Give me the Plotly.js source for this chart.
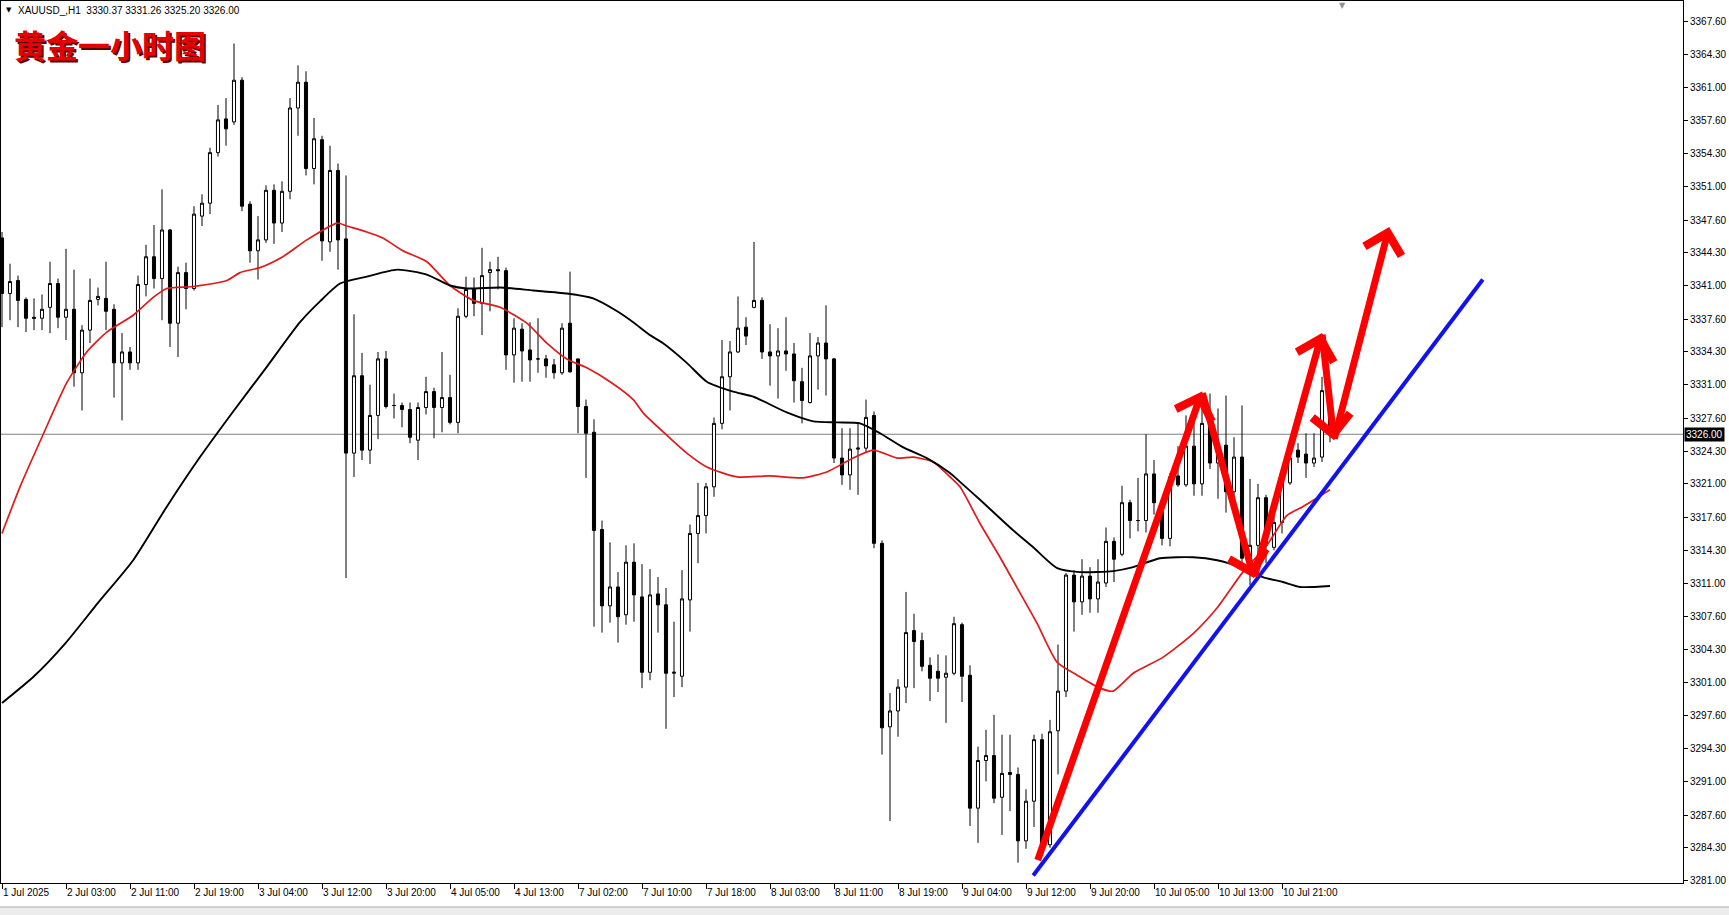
<!DOCTYPE html>
<html><head><meta charset="utf-8">
<script src="https://cdn.plot.ly/plotly-3.0.1.min.js"></script>
<style>html,body{margin:0;padding:0;background:#fff;}#chart{width:1729px;height:915px;}</style>
</head><body><div id="chart"></div>
<script>
// ---- XAUUSD H1 candles ----
const opens = [3345.8,3340.2,3341.5,3339.6,3337.8,3337.7,3338.8,3341.2,3337.8,3338.6,
3332.2,3336.5,3339.6,3339.7,3338.6,3333.2,3334.3,3333.2,3341.1,3343.9,
3341.7,3346.6,3337.2,3342.3,3340.7,3348.0,3349.3,3354.4,3357.8,3357.5,
3361.7,3349.2,3344.5,3345.6,3350.6,3347.3,3350.5,3358.9,3361.5,3352.8,
3355.7,3345.4,3352.6,3345.7,3324.1,3331.9,3324.4,3327.9,3333.6,3328.9,
3328.9,3328.5,3325.4,3328.7,3330.3,3328.7,3329.7,3327.2,3337.9,3340.7,
3339.2,3342.3,3342.6,3342.5,3334.0,3336.6,3334.5,3333.6,3333.6,3333.0,
3332.2,3337.2,3333.6,3328.8,3326.2,3316.4,3308.7,3310.6,3307.8,3313.1,
3309.6,3302.0,3309.9,3308.8,3301.9,3301.6,3309.3,3316.0,3317.8,3320.7,
3327.1,3331.8,3334.3,3336.8,3338.8,3339.5,3334.3,3333.9,3334.4,3334.1,
3331.3,3329.2,3333.9,3335.2,3333.6,3323.6,3321.9,3324.5,3324.6,3327.9,
3315.0,3296.5,3298.1,3300.5,3306.2,3305.2,3302.7,3302.1,3301.5,3301.9,
3306.8,3301.7,3288.3,3293.1,3293.6,3289.4,3291.9,3291.7,3285.0,3289.0,
3295.2,3284.6,3296.1,3300.1,3311.8,3309.1,3311.7,3309.4,3311.0,3315.2,
3313.9,3319.1,3317.3,3317.3,3322.0,3318.2,3315.5,3321.8,3320.9,3324.8,
3321.0,3328.1,3323.1,3324.9,3320.2,3323.7,3312.0,3314.8,3319.6,3314.6,
3317.1,3321.1,3324.4,3324.0,3323.1,3323.7,3330.37];
const highs = [3346.4,3343.2,3342.0,3339.8,3339.7,3340.1,3343.4,3341.7,3344.7,3342.6,
3337.0,3341.7,3340.8,3343.4,3339.1,3336.2,3334.8,3342.0,3345.1,3347.1,
3350.7,3346.7,3342.9,3343.3,3349.0,3350.2,3354.9,3359.2,3359.9,3365.4,
3362.0,3349.5,3348.0,3351.1,3351.2,3351.5,3359.9,3363.2,3362.6,3357.9,
3356.1,3355.1,3353.3,3352.1,3338.1,3334.2,3331.0,3334.3,3334.4,3330.1,
3329.2,3329.2,3329.2,3331.8,3330.7,3334.3,3332.0,3338.7,3341.9,3341.8,
3344.8,3343.4,3343.9,3342.8,3337.7,3337.2,3337.3,3337.7,3334.0,3333.6,
3337.2,3342.4,3333.6,3329.5,3327.5,3317.3,3315.1,3312.1,3314.8,3315.0,
3312.9,3312.4,3311.6,3310.5,3307.1,3312.3,3316.9,3321.1,3321.1,3327.7,
3335.5,3335.4,3339.9,3337.8,3345.4,3339.8,3337.1,3336.7,3337.8,3335.2,
3332.7,3336.2,3335.8,3339.0,3333.7,3326.6,3326.6,3327.2,3329.5,3328.3,
3315.3,3299.9,3301.3,3310.1,3307.9,3306.0,3303.5,3303.8,3303.7,3307.6,
3307.0,3302.7,3294.5,3296.2,3297.7,3295.7,3295.7,3292.4,3290.2,3295.7,
3295.8,3297.2,3304.8,3312.0,3312.3,3313.4,3312.6,3313.4,3316.6,3315.6,
3320.8,3319.4,3321.6,3326.0,3323.4,3319.5,3322.1,3324.8,3327.9,3327.8,
3328.6,3330.1,3328.6,3329.9,3325.7,3328.9,3321.5,3321.0,3319.9,3318.0,
3321.6,3325.1,3325.1,3326.1,3326.1,3331.8,3331.26];
const lows = [3336.8,3337.5,3336.8,3336.3,3336.5,3336.5,3336.2,3336.7,3335.5,3330.8,
3328.4,3335.2,3339.0,3336.5,3329.7,3327.4,3332.5,3332.5,3339.9,3340.7,
3337.5,3334.8,3333.8,3338.6,3340.5,3347.0,3348.2,3354.0,3355.1,3357.2,
3348.5,3343.3,3341.6,3345.3,3345.2,3346.4,3349.7,3356.1,3352.1,3351.2,
3343.5,3344.4,3342.6,3311.5,3321.7,3323.4,3323.0,3325.5,3328.6,3327.6,
3326.7,3325.1,3323.4,3328.0,3325.6,3326.2,3327.0,3326.1,3337.7,3337.9,
3336.0,3338.4,3340.6,3332.5,3331.2,3331.3,3331.3,3332.2,3331.7,3331.6,
3332.0,3332.2,3326.1,3321.6,3306.6,3306.0,3307.0,3305.0,3306.8,3307.1,
3300.4,3301.2,3306.0,3296.3,3299.5,3300.5,3306.1,3313.0,3316.0,3319.7,
3326.5,3328.4,3334.2,3335.0,3338.7,3333.6,3330.9,3329.6,3332.4,3329.2,
3327.1,3329.1,3330.5,3329.9,3323.1,3320.9,3320.4,3319.9,3324.2,3314.5,
3293.7,3287.0,3295.5,3298.9,3300.4,3302.1,3299.1,3300.0,3296.9,3301.7,
3299.0,3286.5,3284.8,3291.0,3288.8,3285.6,3288.0,3282.8,3284.2,3286.4,
3284.2,3284.3,3291.7,3299.5,3306.1,3307.8,3308.0,3308.0,3310.6,3311.1,
3313.7,3315.5,3316.2,3316.1,3317.9,3314.8,3314.7,3320.7,3320.7,3319.8,
3319.8,3322.5,3319.5,3318.1,3318.1,3312.8,3310.8,3312.1,3313.0,3314.3,
3316.0,3320.9,3323.1,3321.6,3322.7,3323.2,3325.20];
const closes = [3340.2,3341.4,3339.5,3337.7,3337.7,3338.6,3341.2,3337.8,3338.6,3332.2,
3336.5,3339.5,3339.9,3338.4,3333.2,3334.3,3333.2,3341.1,3343.9,3341.7,
3346.6,3337.2,3342.3,3340.7,3348.2,3349.3,3354.4,3357.7,3356.8,3361.7,
3349.0,3344.5,3345.6,3350.6,3347.3,3350.5,3358.9,3361.5,3352.8,3355.8,
3345.5,3352.6,3345.6,3324.1,3331.9,3324.4,3327.9,3333.6,3328.8,3328.9,
3328.5,3325.7,3328.7,3330.3,3328.7,3329.7,3327.2,3337.9,3340.6,3339.2,
3342.0,3342.6,3342.5,3334.0,3336.7,3334.4,3333.5,3333.6,3332.9,3332.2,
3336.7,3332.3,3328.8,3326.1,3316.3,3308.7,3310.6,3307.6,3313.1,3309.8,
3302.0,3309.8,3308.8,3301.9,3302.0,3309.4,3316.0,3317.8,3320.7,3327.1,
3331.8,3334.3,3336.7,3335.9,3339.5,3334.3,3333.9,3334.4,3334.1,3331.4,
3329.4,3333.9,3335.2,3333.6,3323.6,3321.9,3324.5,3324.6,3327.7,3315.0,
3296.4,3298.1,3300.5,3306.0,3305.1,3302.6,3301.4,3301.4,3301.9,3306.9,
3301.6,3288.3,3293.1,3293.6,3289.3,3291.8,3291.7,3285.0,3289.0,3295.2,
3284.6,3296.0,3300.1,3311.8,3309.1,3311.7,3309.4,3311.1,3315.2,3313.4,
3319.1,3317.3,3317.3,3322.0,3319.1,3315.5,3321.7,3320.9,3324.8,3321.0,
3327.1,3323.1,3324.9,3320.2,3323.7,3313.5,3314.8,3319.6,3314.8,3317.1,
3321.1,3323.6,3323.7,3323.1,3323.6,3330.4,3326.00];

// ---- time axis labels (bar index -> label) ----
const timeTickIdx = [0,8,16,24,32,40,48,56,64,72,80,88,96,104,112,120,128,136,144,152,160];
const timeTickText = ['1 Jul 2025','2 Jul 03:00','2 Jul 11:00','2 Jul 19:00','3 Jul 04:00','3 Jul 12:00',
'3 Jul 20:00','4 Jul 05:00','4 Jul 13:00','7 Jul 02:00','7 Jul 10:00','7 Jul 18:00','8 Jul 03:00',
'8 Jul 11:00','8 Jul 19:00','9 Jul 04:00','9 Jul 12:00','9 Jul 20:00','10 Jul 05:00','10 Jul 13:00','10 Jul 21:00'];

// ---- price axis labels ----
const priceTickText = ['3367.60','3364.30','3361.00','3357.60','3354.30','3351.00','3347.60','3344.30',
'3341.00','3337.60','3334.30','3331.00','3327.60','3324.30','3321.00','3317.60','3314.30','3311.00',
'3307.60','3304.30','3301.00','3297.60','3294.30','3291.00','3287.60','3284.30','3281.00'];

// ---- moving averages ----
const maRedIdx = [0,2.25,5.1,8.1,10.6,13.1,16.4,18.9,20.6,23.9,28.1,29.75,32.25,35.1,38.1,41.9,43.1,45.6,47.6,50.1,
53.1,56,58.9,62.25,65.6,68.1,70.6,73.1,76,78.9,80.2,83.5,85.6,88.1,91.9,96,100.1,103.1,106.4,108.9,
111.9,113.9,116.4,118.5,119.75,122.25,124.75,127.25,129.4,131.9,134.4,137.25,138.9,141.4,145.1,148.9,
151.9,155.1,158.1,160.6,162.6,164.4,166];
const maRedVal = [3316.0,3320.7,3325.9,3331.2,3334.3,3336.3,3338.0,3339.8,3340.7,3340.9,3341.5,3342.3,3342.8,
3343.9,3345.6,3347.3,3347.0,3346.4,3345.8,3344.5,3343.4,3341.0,3339.5,3338.8,3337.2,3335.2,3333.6,3332.7,
3331.3,3329.5,3328.1,3325.6,3324.1,3322.7,3321.7,3321.8,3321.6,3322.2,3323.6,3324.4,3323.6,3323.7,3323.2,
3321.7,3320.7,3317.0,3313.6,3310.0,3306.9,3303.0,3301.7,3300.4,3300.1,3301.9,3303.5,3305.9,3308.5,3312.1,
3314.8,3317.8,3318.7,3319.6,3320.4];
const maBlackIdx = [0,4,8,12,16.4,20.6,24.75,28.9,33.1,37.25,39.75,42.25,45.6,49.4,53.1,56,58.1,62.25,66.4,70.6,
73.9,76.9,78.9,81,82.6,85.6,88.1,91.4,93.9,98.1,101.4,104.4,107.25,109.75,112.6,115.6,118.5,119.75,122.25,
126,128.9,131.9,134.75,138.9,141.4,144.75,148.9,151.9,155.1,157.6,160.1,162.25,166];
const maBlackVal = [3298.9,3301.6,3305.0,3309.0,3313.3,3318.7,3323.7,3328.3,3332.8,3337.3,3339.4,3341.2,3341.9,
3342.6,3342.1,3341.0,3340.7,3340.8,3340.5,3340.2,3339.7,3338.4,3337.3,3336.0,3335.2,3333.2,3331.3,3330.3,
3329.8,3328.2,3327.3,3327.2,3327.1,3326.1,3324.7,3323.6,3322.1,3321.2,3319.4,3316.6,3314.6,3312.5,3312.1,
3312.2,3312.6,3313.5,3313.6,3313.3,3312.5,3311.6,3311.1,3310.6,3310.7];

// ---- hand-drawn objects ----
const trendIdx = [128.9, 185.1];
const trendVal = [3281.5, 3341.6];
const arrowIdx = [129.4, 150, 156.5, 165, 166.5, 173.4];
const arrowVal = [3282.9, 3330.3, 3311.5, 3336.2, 3325.4, 3346.9];

const barIdx = opens.map((_, i) => i);
const lastPrice = closes[closes.length - 1];
const axisFont = {family: 'Liberation Sans, Arial, sans-serif', size: 10, color: '#000'};

const traces = [
  {type: 'candlestick', x: barIdx, open: opens, high: highs, low: lows, close: closes,
   increasing: {line: {color: '#000', width: 1}, fillcolor: '#fff'},
   decreasing: {line: {color: '#000', width: 1}, fillcolor: '#000'},
   whiskerwidth: 0, hoverinfo: 'skip', showlegend: false},
  {type: 'scatter', mode: 'lines', x: maRedIdx, y: maRedVal, line: {color: '#e01a1a', width: 1.7, shape: 'spline', smoothing: 0.6}, hoverinfo: 'skip', showlegend: false},
  {type: 'scatter', mode: 'lines', x: maBlackIdx, y: maBlackVal, line: {color: '#000', width: 1.9, shape: 'spline', smoothing: 0.6}, hoverinfo: 'skip', showlegend: false},
  {type: 'scatter', mode: 'lines', x: trendIdx, y: trendVal, line: {color: '#1212f0', width: 4}, hoverinfo: 'skip', showlegend: false}
];

const annotations = [];
for (let k = 1; k < arrowIdx.length; k++) {
  annotations.push({x: arrowIdx[k], y: arrowVal[k], ax: arrowIdx[k-1], ay: arrowVal[k-1],
    xref: 'x', yref: 'y', axref: 'x', ayref: 'y', text: '', showarrow: true,
    arrowhead: 4, arrowsize: 1.05, arrowwidth: 7, arrowcolor: '#ff0000', standoff: 0, startstandoff: 0});
}
// header
annotations.push({xref: 'paper', yref: 'paper', x: 0, y: 1, xanchor: 'left', yanchor: 'top', xshift: 3, yshift: -3,
  text: '▼', showarrow: false, font: {family: 'DejaVu Sans, sans-serif', size: 7, color: '#000'}});
annotations.push({xref: 'paper', yref: 'paper', x: 0, y: 1, xanchor: 'left', yanchor: 'top', xshift: 15, yshift: -2,
  text: 'XAUUSD_,H1&nbsp;&nbsp;3330.37 3331.26 3325.20 3326.00', showarrow: false, font: axisFont});
// title with shadow
annotations.push({xref: 'paper', yref: 'paper', x: 0, y: 1, xanchor: 'left', yanchor: 'top', xshift: 13, yshift: -20,
  text: '<b>黄金一小时图</b>', showarrow: false, font: {family: 'Noto Sans CJK SC, sans-serif', size: 32, color: '#5a0000'}});
annotations.push({xref: 'paper', yref: 'paper', x: 0, y: 1, xanchor: 'left', yanchor: 'top', xshift: 11, yshift: -18,
  text: '<b>黄金一小时图</b>', showarrow: false, font: {family: 'Noto Sans CJK SC, sans-serif', size: 32, color: '#e60000'}});
// current price label
annotations.push({xref: 'paper', yref: 'y', x: 1, y: lastPrice, xanchor: 'left', yanchor: 'middle', xshift: 1,
  text: lastPrice.toFixed(2), showarrow: false, bgcolor: '#000', borderpad: 1,
  font: {family: 'Liberation Sans, Arial, sans-serif', size: 10, color: '#fff'}});
// chart shift marker
annotations.push({xref: 'x', yref: 'paper', x: 167.6, y: 1, xanchor: 'center', yanchor: 'top', yshift: 2,
  text: '▼', showarrow: false, font: {family: 'DejaVu Sans, sans-serif', size: 8, color: '#909090'}});

const layout = {
  width: 1729, height: 915,
  margin: {l: 1, r: 46, t: 1, b: 32, pad: 0},
  paper_bgcolor: '#fff', plot_bgcolor: '#fff',
  showlegend: false, boxgap: 0.45, dragmode: false,
  xaxis: {range: [-0.125, 210.125], showgrid: false, zeroline: false, showline: true, linecolor: '#000', linewidth: 1,
    mirror: true, ticks: 'outside', ticklen: 5, tickcolor: '#000', tickvals: timeTickIdx, ticktext: timeTickText,
    ticklabelposition: 'outside right', tickfont: axisFont, rangeslider: {visible: false}, fixedrange: true},
  yaxis: {side: 'right', range: [3280.75, 3369.69], showgrid: false, zeroline: false, showline: true, linecolor: '#000',
    linewidth: 1, mirror: true, ticks: 'outside', ticklen: 4, tickcolor: '#000',
    tickvals: priceTickText.map(Number), ticktext: priceTickText, tickfont: axisFont, fixedrange: true},
  shapes: [
    {type: 'line', xref: 'paper', x0: 0, x1: 1, yref: 'y', y0: lastPrice, y1: lastPrice, line: {color: '#808080', width: 1}, layer: 'below'},
    {type: 'rect', xref: 'paper', yref: 'paper', x0: -0.001, x1: 1.03, y0: -0.04, y1: -0.0272, fillcolor: '#ececec', line: {width: 0}},
    {type: 'line', xref: 'paper', yref: 'paper', x0: -0.001, x1: 1.03, y0: -0.0272, y1: -0.0272, line: {color: '#a8a8a8', width: 1}}
  ],
  annotations: annotations
};

Plotly.newPlot('chart', traces, layout, {staticPlot: true, displayModeBar: false});
</script></body></html>
